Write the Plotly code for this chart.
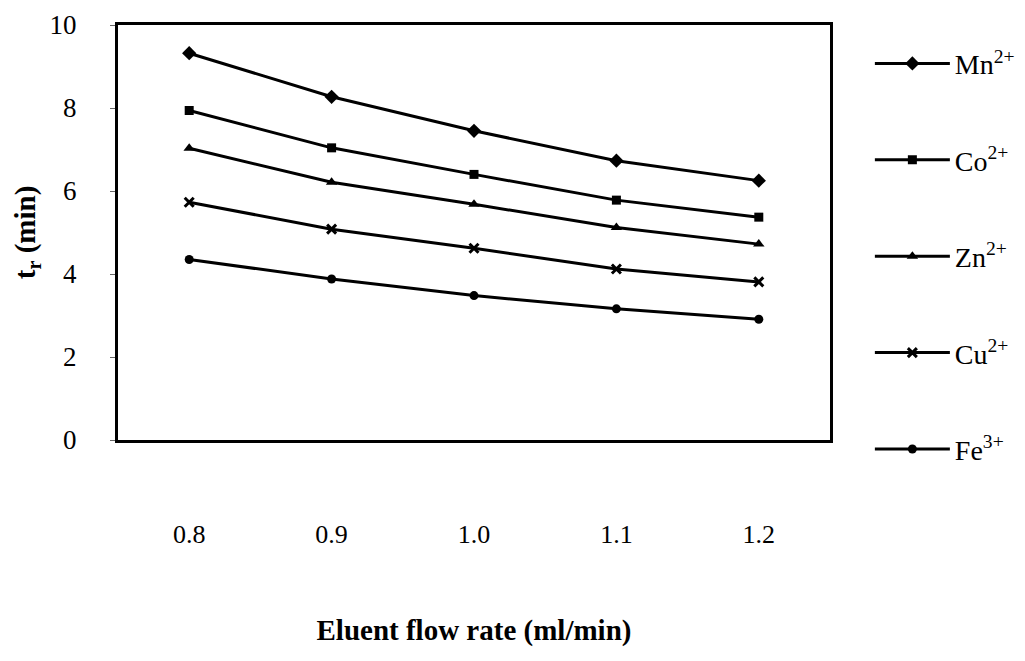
import plotly.graph_objects as go

flow_rate = [0.8, 0.9, 1.0, 1.1, 1.2]
tick_labels = ["0.8", "0.9", "1.0", "1.1", "1.2"]
ion_names = ["Mn<sup>2+</sup>", "Co<sup>2+</sup>", "Zn<sup>2+</sup>", "Cu<sup>2+</sup>", "Fe<sup>3+</sup>"]
mn = [9.32, 8.27, 7.45, 6.73, 6.25]
co = [7.94, 7.04, 6.40, 5.78, 5.37]
zn = [7.03, 6.21, 5.68, 5.12, 4.72]
cu = [5.73, 5.08, 4.62, 4.12, 3.81]
fe = [4.35, 3.88, 3.48, 3.16, 2.91]
series = [mn, co, zn, cu, fe]
symbols = ["diamond", "square", "triangle-up", "x-thin-open", "circle"]
sizes = [11, 9, 10, 9, 9]

SERIF = "Liberation Serif, Times New Roman, serif"

fig = go.Figure()
for i, (name, vals) in enumerate(zip(ion_names, series)):
    sym = symbols[i]
    fig.add_trace(go.Scatter(
        x=flow_rate, y=vals, name=name, mode="lines+markers",
        legendgroup=f"g{i}",
        line=dict(color="black", width=3),
        marker=dict(symbol=sym, size=sizes[i], color="black",
                    line=dict(color="black", width=3 if sym.startswith("x") else 0)),
    ))

fig.update_layout(
    width=1025, height=661,
    margin=dict(l=118, r=195, t=25, b=221, autoexpand=False),
    paper_bgcolor="white", plot_bgcolor="white",
    font=dict(family=SERIF, color="black", size=26),
    showlegend=True,
    legend=dict(
        x=1.056, xanchor="left", y=0.967, yanchor="top",
        font=dict(family=SERIF, size=28, color="black"),
        tracegroupgap=57, itemwidth=75,
        maxheight=620,
        bgcolor="rgba(0,0,0,0)",
    ),
)
fig.update_xaxes(
    range=[0.75, 1.25], tickvals=flow_rate, ticktext=tick_labels,
    showline=True, linecolor="black", linewidth=3, mirror=True,
    showgrid=False, zeroline=False, ticks="",
    ticklabelstandoff=69,
    tickfont=dict(family=SERIF, size=26),
    title=dict(text="<b>Eluent flow rate (ml/min)</b>", standoff=72,
               font=dict(family=SERIF, size=29)),
)
fig.update_yaxes(
    range=[0, 10], dtick=2,
    showline=True, linecolor="black", linewidth=3, mirror=True,
    showgrid=False, zeroline=False,
    ticks="outside", ticklen=5, tickcolor="#666", tickwidth=1,
    ticklabelstandoff=28,
    tickfont=dict(family=SERIF, size=27),
    title=dict(text="<b>t<sub>r</sub> (min)</b>", standoff=6,
               font=dict(family=SERIF, size=29)),
)

fig.write_html("out.html")
